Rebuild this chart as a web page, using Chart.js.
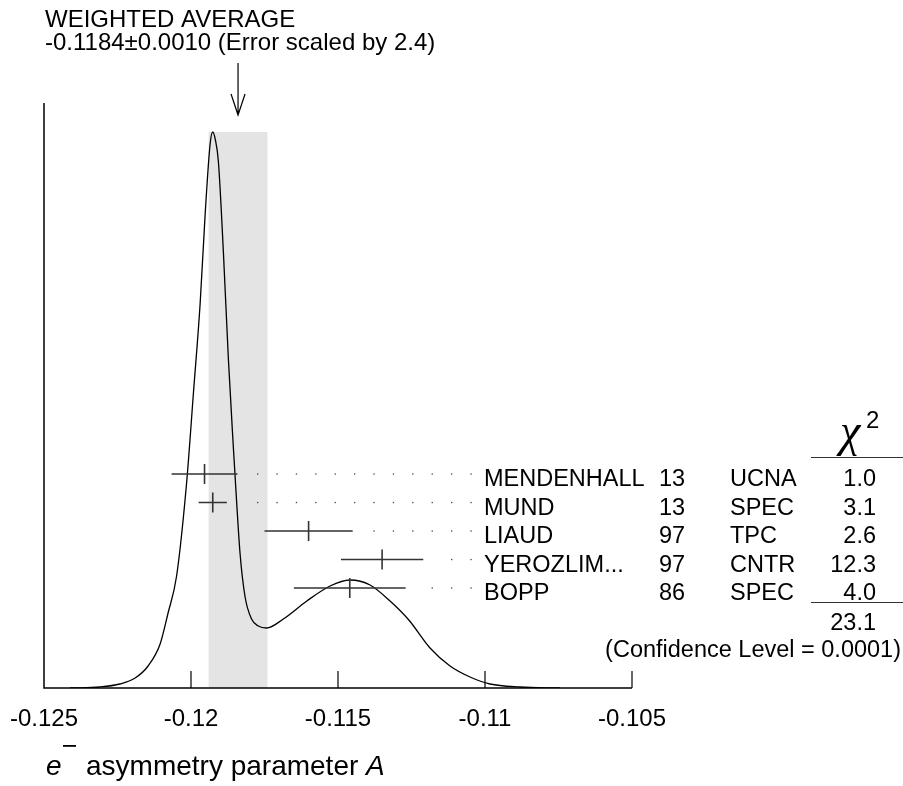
<!DOCTYPE html>
<html>
<head>
<meta charset="utf-8">
<script src="https://cdn.jsdelivr.net/npm/chart.js@4"></script>
<style>
  html, body { margin: 0; padding: 0; background: #fff; }
  #wrap { width: 903px; height: 786px; }
</style>
</head>
<body>
<div id="wrap"><canvas id="chart" width="903" height="786"></canvas></div>
<script>
// Measurements (e- asymmetry parameter A)
const names = ['MENDENHALL', 'MUND', 'LIAUD', 'YEROZLIM...', 'BOPP'];
const years = ['13', '13', '97', '97', '86'];
const techs = ['UCNA', 'SPEC', 'TPC', 'CNTR', 'SPEC'];
const values = [-0.11954, -0.11926, -0.1160, -0.1135, -0.1146];
const errors = [0.00112, 0.00048, 0.0015, 0.0014, 0.0019];
const chi2 = ['1.0', '3.1', '2.6', '12.3', '4.0'];
const chi2Total = '23.1';
const confLevel = '0.0001';

// Weighted average
const avgValue = -0.1184;
const avgError = 0.0010;
const scaleFactor = '2.4';

// Axis ticks
const tickValues = [-0.125, -0.12, -0.115, -0.11, -0.105];
const tickLabels = ['-0.125', '-0.12', '-0.115', '-0.11', '-0.105'];

// Ideogram curve (arbitrary height units)
const ideoX = [-0.12412, -0.12310, -0.12242, -0.12190, -0.12146, -0.12105, -0.12078, -0.12049,
  -0.12015, -0.11992, -0.11969, -0.11952, -0.11935, -0.11926, -0.11917, -0.11907, -0.11890,
  -0.11873, -0.11856, -0.11845, -0.11833, -0.11816, -0.11794, -0.11771, -0.11743, -0.11686,
  -0.11606, -0.11527, -0.11459, -0.11391, -0.11323, -0.11259, -0.11187, -0.11119, -0.11051,
  -0.10983, -0.10881, -0.10745];
const ideoY = [0, 1, 4, 10, 22, 44, 75, 112, 205, 294, 384, 473, 544, 556, 548, 527, 437,
  330, 241, 187, 134, 91, 69, 62, 60, 69, 87, 102, 108, 103, 87, 68, 40, 22, 11, 4, 1, 0];

const FONT = '"Liberation Sans", Arial, sans-serif';
const ROW_Y0 = 474;
const ROW_GAP = 28.5;

// Draws band, axes, error bars and the text table
const ideogramPlugin = {
  id: 'ideogram',
  beforeDatasetsDraw(chart) {
    const { ctx, scales: { x, y } } = chart;
    const x0 = x.getPixelForValue(avgValue - avgError);
    const x1 = x.getPixelForValue(avgValue + avgError);
    const top = y.getPixelForValue(Math.max(...ideoY));
    const bottom = y.getPixelForValue(0);
    ctx.save();
    ctx.fillStyle = '#e4e4e4';
    ctx.fillRect(x0, top, x1 - x0, bottom - top);
    ctx.restore();
  },
  afterDatasetsDraw(chart) {
    const { ctx, chartArea, scales: { x, y } } = chart;
    const base = y.getPixelForValue(0);
    ctx.save();

    // axes
    ctx.strokeStyle = '#000';
    ctx.lineWidth = 1.5;
    ctx.beginPath();
    ctx.moveTo(chartArea.left, chartArea.top);
    ctx.lineTo(chartArea.left, base);
    ctx.lineTo(x.getPixelForValue(tickValues[tickValues.length - 1]), base);
    ctx.stroke();

    ctx.lineWidth = 1.2;
    ctx.font = '24px ' + FONT;
    ctx.fillStyle = '#000';
    ctx.textAlign = 'center';
    ctx.textBaseline = 'alphabetic';
    tickValues.forEach((v, i) => {
      const px = x.getPixelForValue(v);
      if (i > 0) {
        ctx.beginPath();
        ctx.moveTo(px, base);
        ctx.lineTo(px, base - 17);
        ctx.stroke();
      }
      ctx.fillText(tickLabels[i], px, base + 38);
    });

    // error bars
    ctx.strokeStyle = '#333';
    ctx.lineWidth = 1.6;
    values.forEach((v, i) => {
      const ry = ROW_Y0 + i * ROW_GAP;
      const xl = x.getPixelForValue(v - errors[i]);
      const xr = x.getPixelForValue(v + errors[i]);
      const xc = x.getPixelForValue(v);
      ctx.beginPath();
      ctx.moveTo(xl, ry);
      ctx.lineTo(xr, ry);
      ctx.moveTo(xc, ry - 10);
      ctx.lineTo(xc, ry + 10);
      ctx.stroke();

      // dotted leader to the label
      ctx.fillStyle = '#444';
      for (let dx = 471; dx > xr + 15; dx -= 19.4) {
        ctx.fillRect(dx - 0.6, ry - 0.6, 1.3, 1.3);
      }
    });

    // table text
    ctx.fillStyle = '#000';
    ctx.font = '23.5px ' + FONT;
    names.forEach((n, i) => {
      const by = ROW_Y0 + i * ROW_GAP + 12;
      ctx.textAlign = 'left';
      ctx.fillText(n, 484, by);
      ctx.fillText(years[i], 659, by);
      ctx.fillText(techs[i], 730, by);
      ctx.textAlign = 'right';
      ctx.fillText(chi2[i], 876, by);
    });

    // chi2 header and sum lines
    ctx.textAlign = 'left';
    ctx.font = 'italic 46px "Liberation Serif", serif';
    ctx.fillText('\u03c7', 840, 446);
    ctx.font = '24px ' + FONT;
    ctx.fillText('2', 866, 428);
    ctx.strokeStyle = '#333';
    ctx.lineWidth = 1.2;
    ctx.beginPath();
    ctx.moveTo(811, 457.5);
    ctx.lineTo(903, 457.5);
    ctx.moveTo(811, 602.5);
    ctx.lineTo(903, 602.5);
    ctx.stroke();
    ctx.textAlign = 'right';
    ctx.font = '23.5px ' + FONT;
    ctx.fillText(chi2Total, 876, 630);
    ctx.fillText('(Confidence Level = ' + confLevel + ')', 901, 657);

    // title and arrow
    ctx.textAlign = 'left';
    ctx.font = '24px ' + FONT;
    ctx.fillText('WEIGHTED AVERAGE', 45, 27);
    ctx.fillText(avgValue.toFixed(4) + '\u00b1' + avgError.toFixed(4) +
      ' (Error scaled by ' + scaleFactor + ')', 45, 50);
    const ax = x.getPixelForValue(avgValue);
    ctx.strokeStyle = '#000';
    ctx.lineWidth = 1.2;
    ctx.beginPath();
    ctx.moveTo(ax, 63);
    ctx.lineTo(ax, 115);
    ctx.moveTo(ax - 7, 94);
    ctx.lineTo(ax, 115);
    ctx.lineTo(ax + 7, 94);
    ctx.stroke();

    // x-axis title
    ctx.font = 'italic 28px ' + FONT;
    ctx.fillText('e', 46, 775);
    ctx.fillRect(63, 745, 13, 1.8);
    ctx.font = '28px ' + FONT;
    ctx.fillText('asymmetry parameter', 86, 775);
    const w = ctx.measureText('asymmetry parameter ').width;
    ctx.font = 'italic 28px ' + FONT;
    ctx.fillText('A', 86 + w, 775);

    ctx.restore();
  }
};

new Chart(document.getElementById('chart'), {
  type: 'line',
  data: {
    datasets: [{
      data: ideoX.map((v, i) => ({ x: v, y: ideoY[i] })),
      borderColor: '#000',
      borderWidth: 1.3,
      pointRadius: 0,
      fill: false,
      cubicInterpolationMode: 'monotone'
    }]
  },
  options: {
    responsive: false,
    animation: false,
    layout: { padding: { left: 44, right: 271, top: 103, bottom: 98 } },
    scales: {
      x: { type: 'linear', min: -0.125, max: -0.105, display: false },
      y: { min: 0, max: 585, display: false }
    },
    plugins: { legend: { display: false }, tooltip: { enabled: false } }
  },
  plugins: [ideogramPlugin]
});
</script>
</body>
</html>
